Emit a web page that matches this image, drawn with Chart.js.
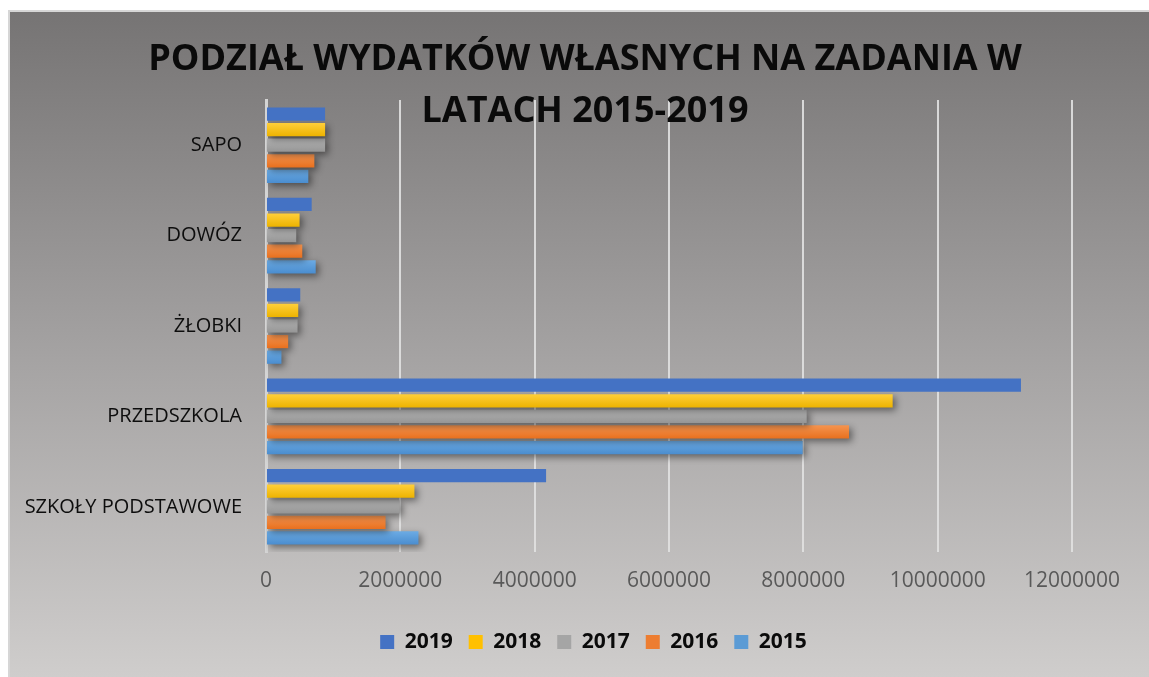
<!DOCTYPE html>
<html>
<head>
<meta charset="utf-8">
<script src="https://cdn.jsdelivr.net/npm/chart.js@4/dist/chart.umd.min.js"></script>
<style>
  html, body { margin: 0; padding: 0; background: #ffffff; }
  #wrap { position: relative; width: 1149px; height: 677px; overflow: hidden; }
  #frame { position: absolute; left: 8px; top: 10px; right: 0; bottom: 0;
    background: linear-gradient(to bottom, #767474 0%, #a3a1a1 50%, #cfcdcc 100%);
    border-left: 2px solid #d6d6d6; border-top: 2px solid #d6d6d6; box-sizing: border-box; }
  #c { position: absolute; left: 0; top: 0; }
</style>
</head>
<body>
<div id="wrap">
  <div id="frame"></div>
  <canvas id="c" width="1149" height="677"></canvas>
</div>
<script>
const titleLines = ['PODZIAŁ WYDATKÓW WŁASNYCH NA ZADANIA W', 'LATACH 2015-2019'];
const categories = ['SAPO', 'DOWÓZ', 'ŻŁOBKI', 'PRZEDSZKOLA', 'SZKOŁY PODSTAWOWE'];
const seriesNames = ['2019', '2018', '2017', '2016', '2015'];
const v2019 = [880000, 680000, 510000, 11240000, 4170000];
const v2018 = [880000, 500000, 480000, 9330000, 2210000];
const v2017 = [880000, 450000, 470000, 8050000, 1990000];
const v2016 = [720000, 540000, 330000, 8680000, 1780000];
const v2015 = [630000, 740000, 230000, 7990000, 2270000];
const xMax = 12000000;
const xStep = 2000000;

const baseColors = ['#4472C4', '#FFC000', '#A5A5A5', '#ED7D31', '#5B9BD5'];
const gradStops = [null, ['#FFCF3A', '#EDB300'], ['#B5B5B5', '#959595'], ['#F5944F', '#E8701E'], ['#6CABE4', '#4A8DCF']];
const seriesValues = [v2019, v2018, v2017, v2016, v2015];

const FONT = '"Open Sans", "DejaVu Sans", sans-serif';

const stylePlugin = {
  id: 'barStyle',
  beforeDatasetDraw(chart, args) {
    const i = args.index;
    const ctx = chart.ctx;
    const meta = args.meta;
    ctx.save();
    if (gradStops[i]) {
      meta.data.forEach(el => {
        const h = el.height;
        const g = ctx.createLinearGradient(0, el.y - h / 2, 0, el.y + h / 2);
        g.addColorStop(0, gradStops[i][0]);
        g.addColorStop(1, gradStops[i][1]);
        el.options = Object.assign({}, el.options, { backgroundColor: g });
      });
      ctx.shadowColor = 'rgba(0,0,0,0.45)';
      ctx.shadowBlur = 7;
      ctx.shadowOffsetX = 3;
      ctx.shadowOffsetY = 3;
    }
  },
  afterDatasetDraw(chart) {
    chart.ctx.restore();
  },
  afterDraw(chart) {
    const ctx = chart.ctx;
    ctx.save();
    ctx.font = 'bold 36px ' + FONT;
    ctx.fillStyle = '#0a0a0a';
    ctx.textAlign = 'center';
    ctx.textBaseline = 'alphabetic';
    ctx.fillText(titleLines[0], 585, 70);
    ctx.fillText(titleLines[1], 585, 122);
    ctx.restore();
  }
};

const datasets = seriesNames.map((name, i) => ({
  label: name,
  data: seriesValues[i],
  backgroundColor: baseColors[i],
  borderWidth: 0,
  categoryPercentage: 0.862,
  barPercentage: 0.85
}));

new Chart(document.getElementById('c'), {
  type: 'bar',
  data: { labels: categories, datasets },
  plugins: [stylePlugin],
  options: {
    indexAxis: 'y',
    responsive: false,
    devicePixelRatio: 1,
    animation: false,
    layout: { padding: { left: 0, top: 100, right: -38, bottom: 14.5 } },
    plugins: {
      title: { display: false },
      tooltip: { enabled: false },
      legend: {
        position: 'bottom',
        labels: {
          boxWidth: 14, boxHeight: 14, padding: 16,
          color: '#0a0a0a',
          font: { family: FONT, size: 21, weight: 'bold' }
        }
      }
    },
    scales: {
      x: {
        min: 0, max: xMax,
        ticks: { stepSize: xStep, color: '#595959', padding: 16,
          font: { family: FONT, size: 21 },
          callback: v => String(v) },
        grid: { color: 'rgba(225,225,225,0.9)', lineWidth: 2, drawTicks: false },
        border: { display: false },
        afterFit(scale) { scale.height = 63.5; scale.paddingRight = 77; }
      },
      y: {
        ticks: { color: '#0d0d0d', padding: 24, font: { family: FONT, size: 20 } },
        grid: { display: false, drawTicks: false },
        border: { display: true, color: '#d4d4d4', width: 3 },
        afterFit(scale) { scale.width = 266; }
      }
    }
  }
});
</script>
</body>
</html>
